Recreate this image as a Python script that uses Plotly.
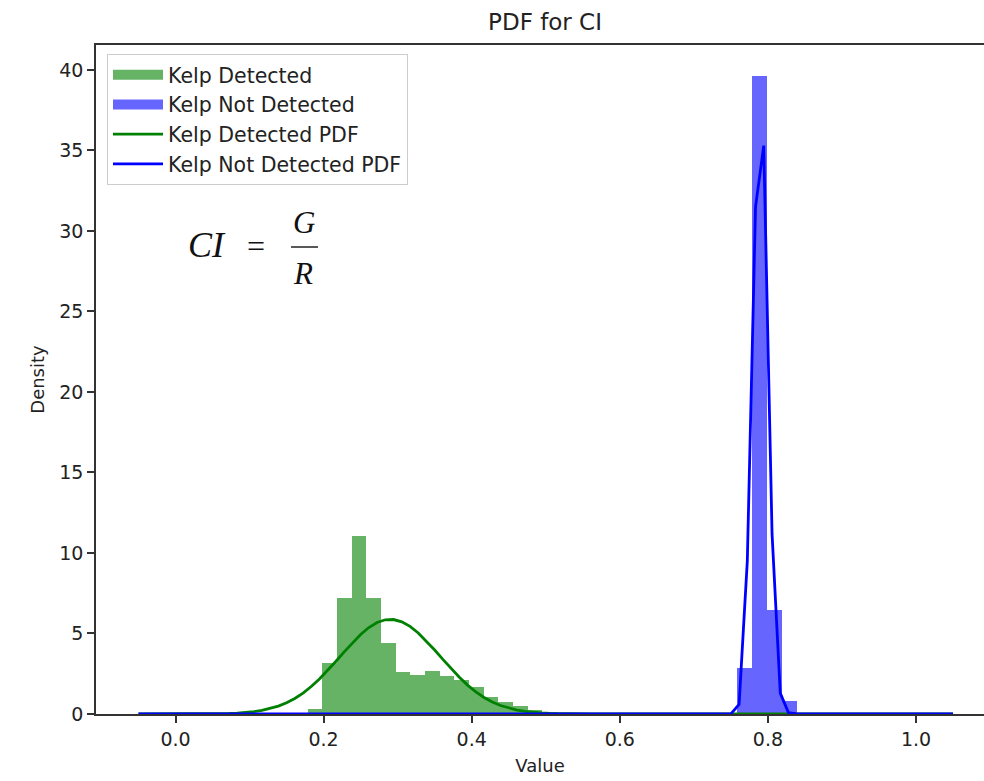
import plotly.graph_objects as go

# ---------------- data ----------------
GREEN_BIN_EDGES = [0.1785, 0.1983, 0.2181, 0.2379, 0.2577, 0.2775, 0.2973, 0.3171, 0.3369,
                   0.3567, 0.3765, 0.3963, 0.4161, 0.4359, 0.4557, 0.4755, 0.4953, 0.5151]
GREEN_DENSITY = [0.33, 3.15, 7.2, 11.06, 7.2, 4.4, 2.63, 2.45, 2.67,
                 2.36, 2.1, 1.66, 1.04, 0.76, 0.5, 0.25, 0.1]

BLUE_BIN_EDGES = [0.7587, 0.7788, 0.7988, 0.8189, 0.8389]
BLUE_DENSITY = [2.84, 39.6, 6.46, 0.83]

GREEN_PDF_X = [-0.05, 0.0056, 0.0167, 0.0278, 0.0389, 0.05, 0.0611, 0.0722, 0.0833, 0.0944,
               0.1056, 0.1167, 0.1278, 0.1389, 0.15, 0.1611, 0.1722, 0.1833, 0.1944, 0.2056,
               0.2167, 0.2278, 0.2389, 0.25, 0.2611, 0.2722, 0.2833, 0.2944, 0.3056, 0.3167,
               0.3278, 0.3389, 0.35, 0.3611, 0.3722, 0.3833, 0.3944, 0.4056, 0.4167, 0.4278,
               0.4389, 0.45, 0.4611, 0.4722, 0.4833, 0.4944, 0.5056, 0.5167, 0.5278, 0.5389,
               0.55, 0.5611, 0.5722, 1.05]
GREEN_PDF_Y = [0.0, 0.001, 0.002, 0.003, 0.006, 0.011, 0.02, 0.034, 0.057, 0.092,
               0.146, 0.224, 0.336, 0.491, 0.697, 0.964, 1.30, 1.705, 2.179, 2.708,
               3.276, 3.86, 4.426, 4.941, 5.37, 5.681, 5.852, 5.867, 5.727, 5.442,
               5.035, 4.533, 3.975, 3.393, 2.819, 2.28, 1.795, 1.375, 1.027, 0.746,
               0.528, 0.363, 0.243, 0.159, 0.101, 0.062, 0.038, 0.022, 0.013, 0.007,
               0.004, 0.002, 0.001, 0.0]

BLUE_PDF_X = [-0.05, 0.7389, 0.75, 0.7611, 0.7722, 0.7833, 0.7944, 0.8056, 0.8167,
              0.8278, 0.8389, 1.05]
BLUE_PDF_Y = [0.0, 0.0, 0.01, 0.6, 9.5, 31.5, 35.3, 11.2, 1.3, 0.08, 0.0, 0.0]

SERIES_NAMES = ["Kelp Detected", "Kelp Not Detected", "Kelp Detected PDF", "Kelp Not Detected PDF"]
X_TICKS = [0.0, 0.2, 0.4, 0.6, 0.8, 1.0]
X_TICK_LABELS = ["0.0", "0.2", "0.4", "0.6", "0.8", "1.0"]
Y_TICKS = [0, 5, 10, 15, 20, 25, 30, 35, 40]
Y_TICK_LABELS = ["0", "5", "10", "15", "20", "25", "30", "35", "40"]

GREEN_FILL = "rgba(0,128,0,0.6)"
BLUE_FILL = "rgba(0,0,255,0.6)"
GREEN_LINE = "#008000"
BLUE_LINE = "#0000ff"
FONT = "DejaVu Sans"
TXT = "#222222"


def centers_widths(edges):
    c = [(a + b) / 2 for a, b in zip(edges[:-1], edges[1:])]
    w = [b - a for a, b in zip(edges[:-1], edges[1:])]
    return c, w


fig = go.Figure()

gc, gw = centers_widths(GREEN_BIN_EDGES)
bc, bw = centers_widths(BLUE_BIN_EDGES)

fig.add_trace(go.Bar(x=gc, y=GREEN_DENSITY, width=gw, marker=dict(color=GREEN_FILL, line=dict(width=0)),
                     name=SERIES_NAMES[0], legendgroup="g1", showlegend=False))
fig.add_trace(go.Bar(x=bc, y=BLUE_DENSITY, width=bw, marker=dict(color=BLUE_FILL, line=dict(width=0)),
                     name=SERIES_NAMES[1], legendgroup="g2", showlegend=False))

# legend swatches for the histogram patches
fig.add_trace(go.Scatter(x=[None], y=[None], mode="lines", line=dict(color=GREEN_FILL, width=13),
                         name=SERIES_NAMES[0], legendgroup="g1"))
fig.add_trace(go.Scatter(x=[None], y=[None], mode="lines", line=dict(color=BLUE_FILL, width=13),
                         name=SERIES_NAMES[1], legendgroup="g2"))

fig.add_trace(go.Scatter(x=GREEN_PDF_X, y=GREEN_PDF_Y, mode="lines", line=dict(color=GREEN_LINE, width=2.8),
                         name=SERIES_NAMES[2], legendgroup="g3"))
fig.add_trace(go.Scatter(x=BLUE_PDF_X, y=BLUE_PDF_Y, mode="lines", line=dict(color=BLUE_LINE, width=2.8),
                         name=SERIES_NAMES[3], legendgroup="g4"))

L, T, B = 96, 45, 67
W, H = 984, 781
PW = W - L
PH = H - T - B


def px(xp):
    return (xp - L) / PW


def py(yp):
    return (H - B - yp) / PH


def formula_text(text, x, y, size):
    return dict(text=text, x=px(x), y=py(y), xref="paper", yref="paper", showarrow=False,
                xanchor="center", yanchor="middle",
                font=dict(family="Liberation Serif", size=size, color="#111"))


annotations = [
    formula_text("<i>CI</i>", 207, 245, 36),
    formula_text("=", 256, 246, 32),
    formula_text("<i>G</i>", 304, 222, 31),
    formula_text("<i>R</i>", 303, 273, 31),
]
shapes = [
    dict(type="line", xref="paper", yref="paper", x0=px(291), x1=px(318), y0=py(247), y1=py(247),
         line=dict(color="#222", width=1.5)),
]

fig.update_layout(
    width=W, height=H,
    margin=dict(l=L, r=0, t=T, b=B),
    paper_bgcolor="white", plot_bgcolor="white",
    barmode="overlay", bargap=0,
    font=dict(family=FONT, size=19, color=TXT),
    title=dict(text="PDF for CI", x=545 / W, xref="container", xanchor="center",
               y=1 - 22 / H, yref="container", yanchor="middle",
               font=dict(family=FONT, size=23, color=TXT)),
    xaxis=dict(range=[(L - 175.5) / 740.5, (W - 175.5) / 740.5], tickvals=X_TICKS, ticktext=X_TICK_LABELS,
               showgrid=False, zeroline=False, showline=True, mirror=True, linecolor="#333", linewidth=1.6,
               ticks="outside", ticklen=7, tickwidth=1.5, tickcolor="#333",
               tickfont=dict(size=19, color=TXT),
               title=dict(text="Value", font=dict(size=18, color=TXT), standoff=11)),
    yaxis=dict(range=[0, 41.55], tickvals=Y_TICKS, ticktext=Y_TICK_LABELS,
               showgrid=False, zeroline=False, showline=True, mirror=False, linecolor="#333", linewidth=1.6,
               ticks="outside", ticklen=7, tickwidth=1.5, tickcolor="#333",
               tickfont=dict(size=19, color=TXT),
               title=dict(text="Density", font=dict(size=18, color=TXT), standoff=10)),
    legend=dict(x=px(107), y=py(54), xanchor="left", yanchor="top",
                bgcolor="rgba(255,255,255,0.85)", bordercolor="#cccccc", borderwidth=1,
                font=dict(family=FONT, size=20.5, color=TXT), tracegroupgap=0,
                itemwidth=50),
    annotations=annotations,
    shapes=shapes,
)

fig.write_html("out.html")
